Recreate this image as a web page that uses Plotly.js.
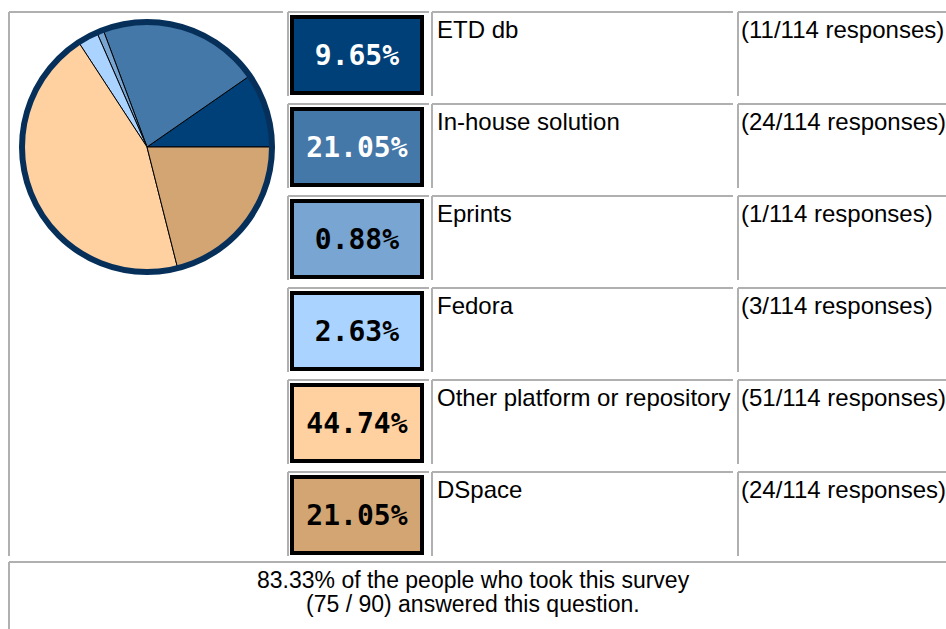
<!DOCTYPE html>
<html>
<head>
<meta charset="utf-8">
<script src="https://cdn.plot.ly/plotly-3.0.1.min.js"></script>
<style>
  html, body { margin: 0; padding: 0; background: #fff; }
  #PLOT { width: 946px; height: 629px; }
</style>
</head>
<body>
<div id="PLOT"></div>
<script>
// survey answers, one entry per platform
const platforms = ['ETD db', 'In-house solution', 'Eprints', 'Fedora', 'Other platform or repository', 'DSpace'];
const responses = [11, 24, 1, 3, 51, 24];
const sliceColors = ['#004078', '#4478a8', '#78a5d2', '#aad4ff', '#ffd0a0', '#d2a573'];
const labelColors = ['#ffffff', '#ffffff', '#000000', '#000000', '#000000', '#000000'];
const tookSurvey = 90;
const answered = 75;

const W = 946, H = 629;
const total = responses.reduce((a, b) => a + b, 0);
const rowTop = i => 12 + 92 * i;
const gray = '#b0b0b0';

// pie sits in the left cell
const pieBox = { x0: 22, x1: 272, y0: 22, y1: 272 };
const pieDomain = {
  x: [pieBox.x0 / W, pieBox.x1 / W],
  y: [1 - pieBox.y1 / H, 1 - pieBox.y0 / H]
};

let data = [
  {
    type: 'pie',
    labels: platforms,
    values: responses,
    sort: false,
    direction: 'counterclockwise',
    // first slice should begin at 3 o'clock
    rotation: 90 - 360 * responses[0] / total,
    domain: pieDomain,
    textinfo: 'none',
    hoverinfo: 'label+value+percent',
    marker: { colors: sliceColors, line: { color: '#000', width: 1 } },
    showlegend: false
  },
  {
    // dark rim round the pie
    type: 'pie',
    labels: ['rim'],
    values: [1],
    domain: pieDomain,
    textinfo: 'none',
    hoverinfo: 'skip',
    marker: { colors: ['rgba(0,0,0,0)'], line: { color: '#06305a', width: 6 } },
    showlegend: false
  }
];

let shapes = [];
let annotations = [];
const line = (x0, y0, x1, y1) => shapes.push({
  type: 'line', xref: 'x', yref: 'y', x0: x0, y0: y0, x1: x1, y1: y1,
  line: { color: gray, width: 2 }
});

// pie cell
line(9, 12, 283, 12);
line(9, 12, 9, 556);

const cellLeft = [288, 432, 738];
const cellRight = [429, 733, 946];

platforms.forEach((name, i) => {
  const top = rowTop(i);
  cellLeft.forEach((x, c) => {
    line(x, top, cellRight[c], top);
    line(x, top, x, top + 84);
  });
  annotations.push({
    xref: 'x', yref: 'y', x: 357, y: top + 43,
    text: '<b>' + (responses[i] / total * 100).toFixed(2) + '%</b>',
    showarrow: false,
    width: 126, height: 72, borderpad: 0,
    bgcolor: sliceColors[i], bordercolor: '#000', borderwidth: 4,
    font: { family: 'DejaVu Sans Mono', size: 28, color: labelColors[i] }
  });
  annotations.push({
    xref: 'x', yref: 'y', x: 435, y: top + 2,
    xanchor: 'left', yanchor: 'top',
    text: name, showarrow: false,
    font: { family: 'Liberation Sans, Arial', size: 24, color: '#000' }
  });
  annotations.push({
    xref: 'x', yref: 'y', x: 739, y: top + 2,
    xanchor: 'left', yanchor: 'top',
    text: '(' + responses[i] + '/' + total + ' responses)', showarrow: false,
    font: { family: 'Liberation Sans, Arial', size: 24, color: '#000' }
  });
});

// footer cell
line(9, 562, 946, 562);
line(9, 562, 9, 629);
const footer = [
  (answered / tookSurvey * 100).toFixed(2) + '% of the people who took this survey',
  '(' + answered + ' / ' + tookSurvey + ') answered this question.'
];
footer.forEach((t, k) => {
  annotations.push({
    xref: 'x', yref: 'y', x: 473, y: 580 + 24 * k,
    text: t, showarrow: false,
    font: { family: 'Liberation Sans, Arial', size: 23, color: '#000' }
  });
});

let layout = {
  width: W, height: H,
  margin: { l: 0, r: 0, t: 0, b: 0 },
  paper_bgcolor: '#fff', plot_bgcolor: '#fff',
  xaxis: { range: [0, W], visible: false, fixedrange: true },
  yaxis: { range: [H, 0], visible: false, fixedrange: true },
  shapes: shapes,
  annotations: annotations,
  showlegend: false
};

Plotly.newPlot('PLOT', data, layout, { displayModeBar: false, staticPlot: true });
</script>
</body>
</html>
